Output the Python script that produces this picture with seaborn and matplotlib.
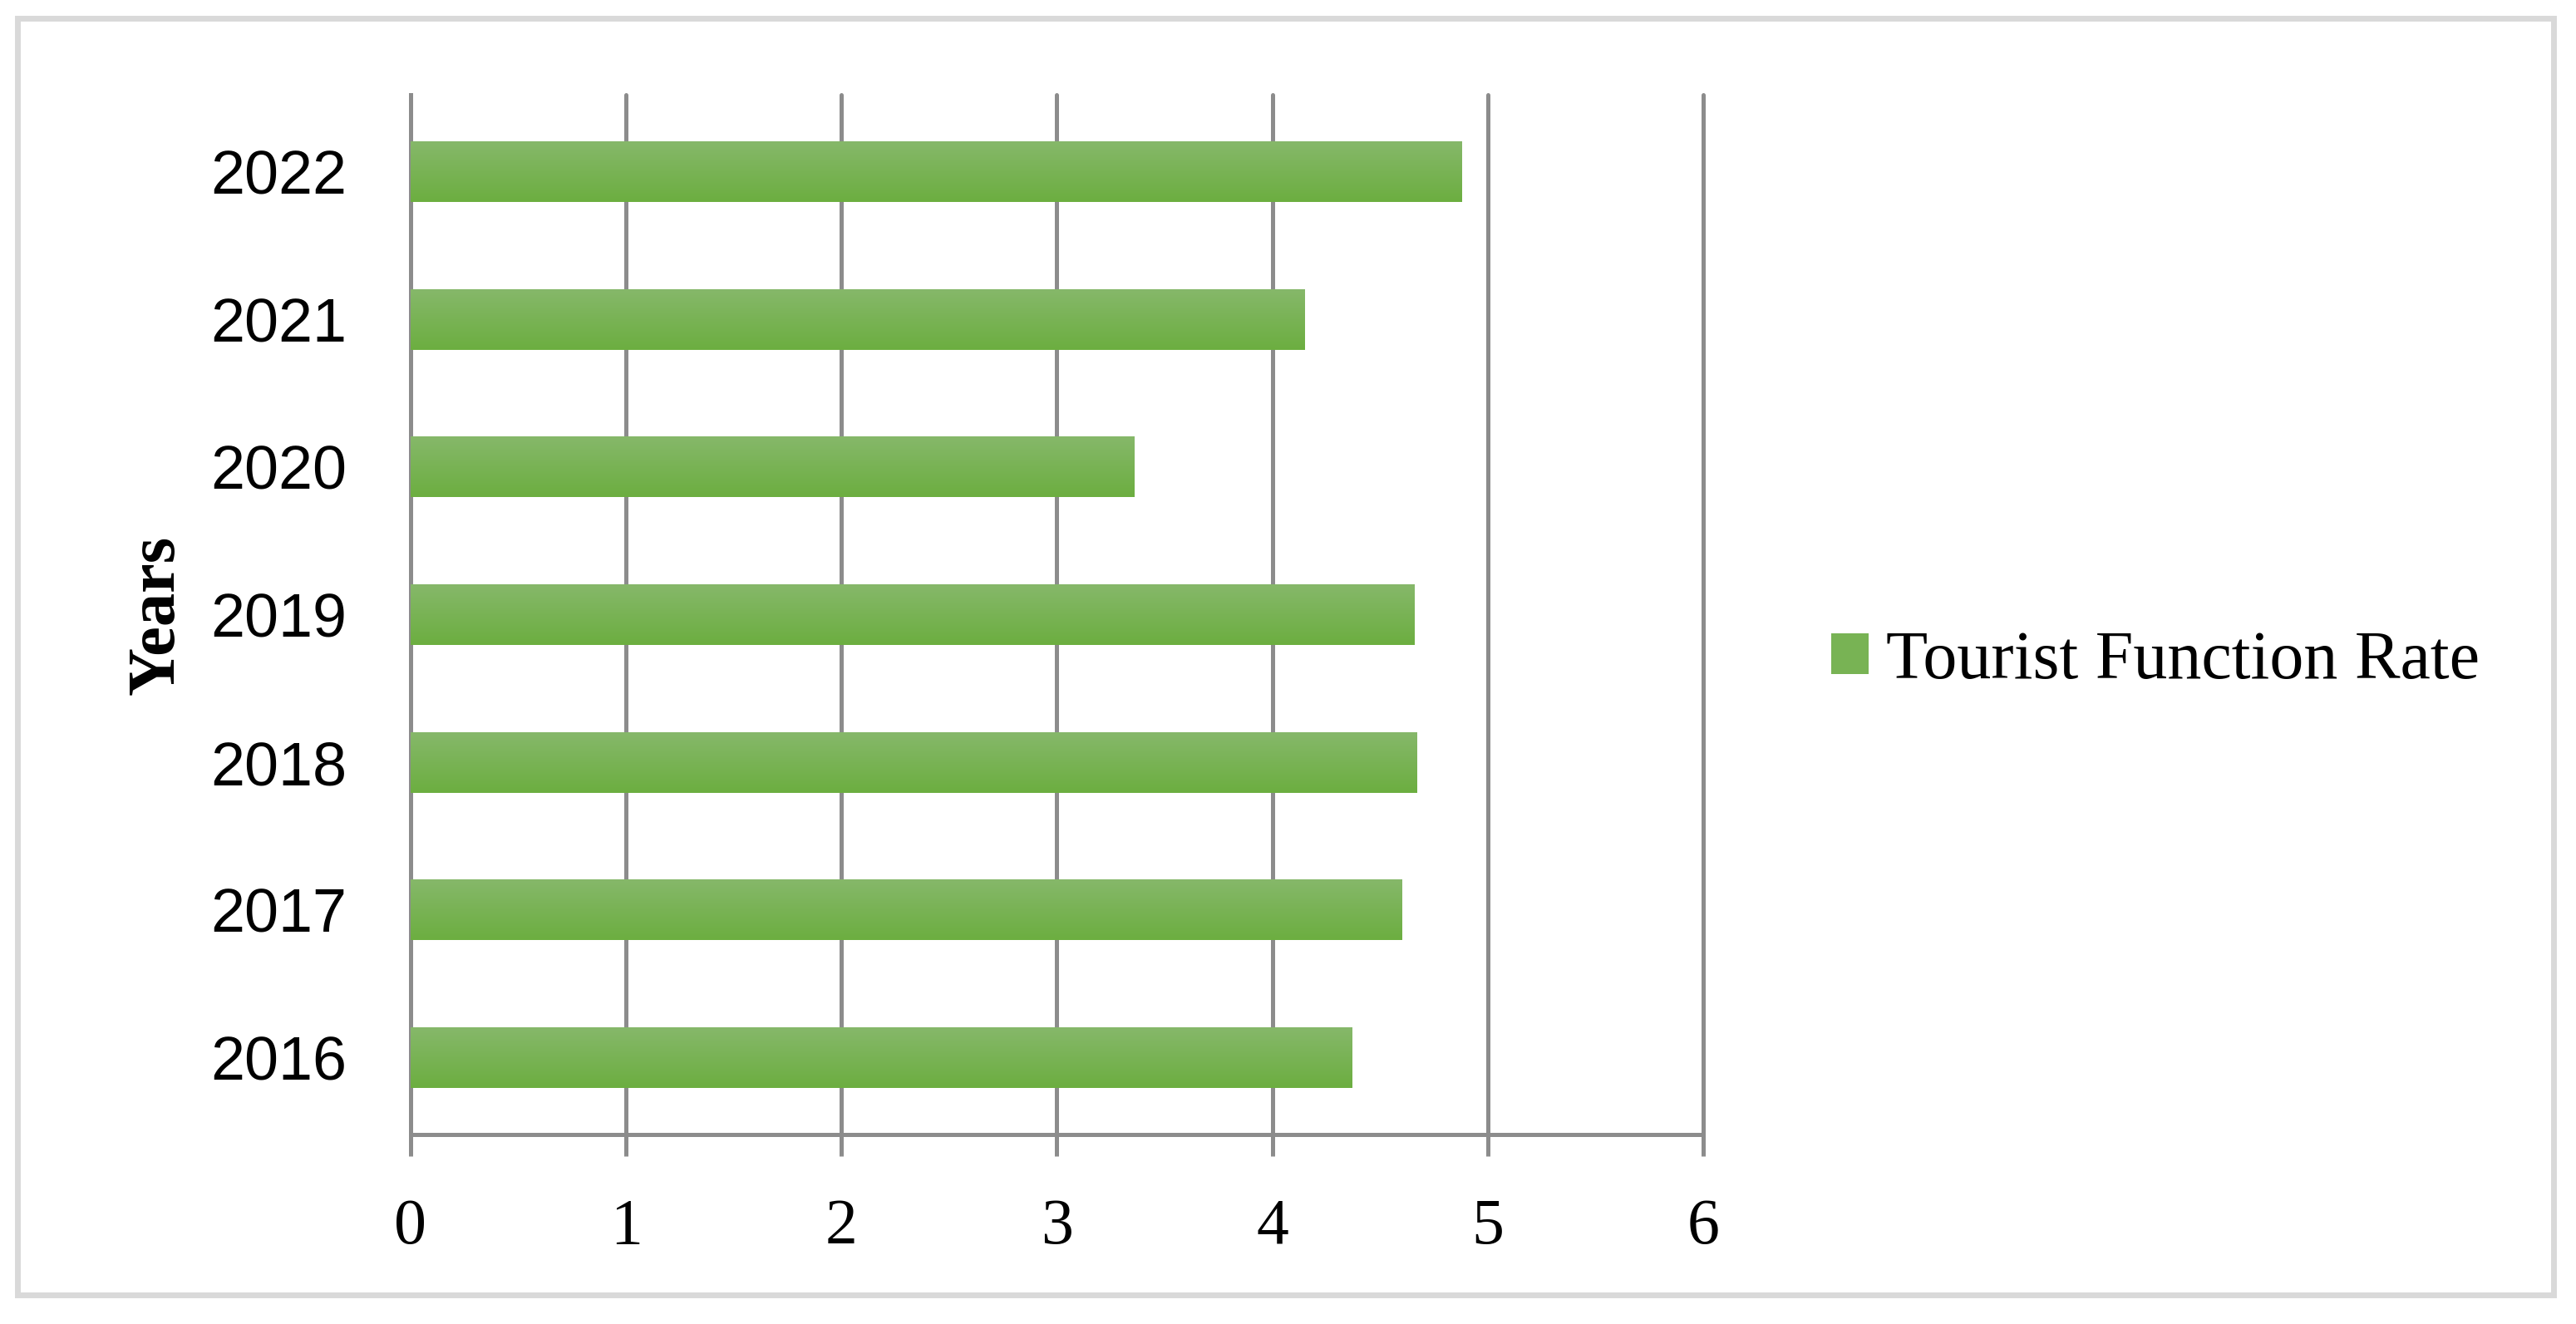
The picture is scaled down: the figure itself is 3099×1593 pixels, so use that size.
import numpy as np
import pandas as pd
import matplotlib
matplotlib.use('Agg')
import matplotlib.pyplot as plt
import seaborn as sns
from matplotlib.colors import LinearSegmentedColormap
from matplotlib.patches import Rectangle, Patch


YEARS = ['2016', '2017', '2018', '2019', '2020', '2021', '2022']
TOURIST_FUNCTION_RATE = [4.37, 4.60, 4.67, 4.66, 3.36, 4.15, 4.88]
X_TICKS = [0, 1, 2, 3, 4, 5, 6]
SERIES_NAME = 'Tourist Function Rate'
Y_LABEL = 'Years'

GREEN_TOP = '#86b86a'
GREEN_BOTTOM = '#6cae40'
GREEN_MID = '#78b354'
GRID_GRAY = '#8c8c8c'
FRAME_GRAY = '#d9d9d9'

sns.set_theme(style='white')
plt.rcParams['font.family'] = ['Liberation Serif', 'DejaVu Serif']
plt.rcParams['text.color'] = 'black'
plt.rcParams['xtick.labelcolor'] = 'black'
plt.rcParams['ytick.labelcolor'] = 'black'
plt.rcParams['axes.labelcolor'] = 'black'

df = pd.DataFrame({'Year': YEARS, 'Rate': TOURIST_FUNCTION_RATE})

fig = plt.figure(figsize=(30.99, 15.93), dpi=100)
ax = fig.add_axes([494 / 3099, 1 - 1365 / 1593, 1555 / 3099, 1251 / 1593])

sns.barplot(
    data=df, x='Rate', y='Year', order=YEARS[::-1], orient='h',
    width=0.41, color=GREEN_BOTTOM, saturation=1, linewidth=0,
    errorbar=None, ax=ax, zorder=3
)

# vertical gradient on each bar, light on top
grad_cmap = LinearSegmentedColormap.from_list('bar_grad', [GREEN_TOP, GREEN_BOTTOM])
grad = np.linspace(0, 1, 256).reshape(-1, 1)
for bar in list(ax.patches):
    x0, y0 = bar.get_xy()
    w, h = bar.get_width(), bar.get_height()
    ax.imshow(grad, cmap=grad_cmap, extent=(x0, x0 + w, y0 + h, y0),
              origin='upper', aspect='auto', zorder=3.5, interpolation='bilinear')

ax.set_xlim(0, 6)
ax.set_ylim(6.52, -0.52)
ax.set_xticks(X_TICKS)
ax.set_xticklabels([str(t) for t in X_TICKS])
ax.xaxis.grid(True, color=GRID_GRAY, linewidth=3.6, zorder=0)
ax.yaxis.grid(False)
for line in ax.get_xgridlines():
    line.set_clip_on(False)

for side in ['top', 'right']:
    ax.spines[side].set_visible(False)
for side in ['left', 'bottom']:
    ax.spines[side].set_color(GRID_GRAY)
    ax.spines[side].set_linewidth(3.6)

ax.tick_params(axis='x', direction='out', length=19, width=3.6, color=GRID_GRAY,
               labelsize=56, pad=36, bottom=True, labelcolor='black')
ax.tick_params(axis='y', length=0, labelsize=53, pad=55, labelcolor='black')
for lbl in ax.get_yticklabels():
    lbl.set_fontfamily(['Liberation Sans', 'DejaVu Sans'])

ax.set_xlabel('')
ax.set_ylabel(Y_LABEL, fontsize=58, fontweight='bold', color='black')
ax.yaxis.label.set_rotation_mode('default')
ax.yaxis.label.set_verticalalignment('center')
ax.yaxis.set_label_coords(-0.196, 0.5)

fig.legend(
    handles=[Patch(facecolor=GREEN_MID, edgecolor='none')], labels=[SERIES_NAME],
    loc='center left', bbox_to_anchor=(2203 / 3099, 1 - 796 / 1593),
    frameon=False, fontsize=59, handlelength=0.55, handleheight=0.55,
    handletextpad=0.25, borderpad=0, borderaxespad=0, labelcolor='black'
)

fig.patches.append(Rectangle(
    (21 / 3099, 1 - 1558 / 1593), (3072 - 21) / 3099, (1558 - 22) / 1593,
    transform=fig.transFigure, fill=False, edgecolor=FRAME_GRAY, linewidth=5
))

fig.savefig('out.png', dpi=100)
